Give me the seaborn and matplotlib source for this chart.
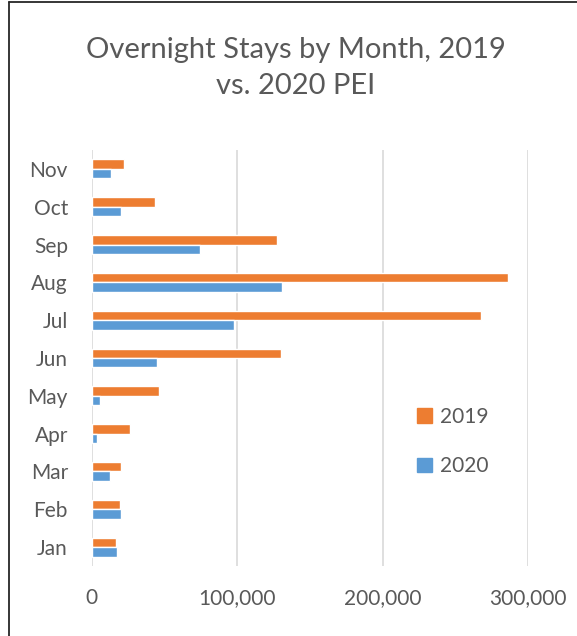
import pandas as pd
import numpy as np
import matplotlib
matplotlib.use("Agg")
import matplotlib.pyplot as plt
from matplotlib.lines import Line2D
from matplotlib.ticker import FuncFormatter
import seaborn as sns

sns.set_theme(style="white")
plt.rcParams['font.family'] = ['Lato', 'DejaVu Sans']

# Data (overnight stays per month)
months = ['Jan', 'Feb', 'Mar', 'Apr', 'May', 'Jun', 'Jul', 'Aug', 'Sep', 'Oct', 'Nov']
stays_2019 = [17000, 19800, 20500, 26200, 46600, 130000, 267700, 286300, 127600, 43800, 22500]
stays_2020 = [17700, 20000, 12900, 4000, 5600, 45200, 97700, 131000, 74300, 20300, 13600]
years = ['2019', '2020']
colors = ['#ED7D31', '#5B9BD5']
xticks = [0, 100000, 200000, 300000]

df = pd.DataFrame({
    'Month': months * 2,
    'Year': [years[0]] * len(months) + [years[1]] * len(months),
    'Stays': stays_2019 + stays_2020,
})

grey = '#595959'

fig = plt.figure(figsize=(5.77, 6.36), dpi=100)
ax = fig.add_axes([91.5 / 577, 1 - 566 / 636, (528.3 - 91.5) / 577, (566 - 150) / 636])

sns.barplot(data=df, y='Month', x='Stays', hue='Year', order=months[::-1],
            hue_order=years, palette=colors, orient='h', width=0.5,
            saturation=1, ax=ax, legend=False)

ax.set_xlim(0, 300000)
ax.set_ylim(len(months) - 0.5, -0.5)
ax.set_xticks(xticks)
ax.xaxis.set_major_formatter(FuncFormatter(lambda v, p: f"{int(v):,}"))
ax.set_xlabel('')
ax.set_ylabel('')
ax.grid(axis='x', color='#d9d9d9', linewidth=1.2)
ax.set_axisbelow(True)
for s in ax.spines.values():
    s.set_visible(False)
ax.tick_params(axis='both', length=0, labelsize=15, labelcolor=grey)
ax.tick_params(axis='y', pad=17)
ax.tick_params(axis='x', pad=16)

# legend sits inside the plot, Excel style
handles = [plt.Rectangle((0, 0), 1, 1, color=c) for c in colors]
ax.legend(handles, years, loc='upper left', frameon=False,
          bbox_to_anchor=(417 / 577, 1 - 407 / 636), bbox_transform=fig.transFigure,
          fontsize=15, labelcolor=grey, handlelength=0.7, handleheight=0.7,
          handletextpad=0.4, labelspacing=1.4, borderpad=0, borderaxespad=0)

fig.text(295.5 / 577, 1 - 68 / 636, "Overnight Stays by Month, 2019\nvs. 2020 PEI",
         ha='center', va='center', fontsize=21, color=grey, linespacing=1.5)

# chart frame (left and top edges visible in the crop)
fig.add_artist(Line2D([8.5 / 577, 8.5 / 577], [0, 1 - 2 / 636], color='#262626', linewidth=1.3))
fig.add_artist(Line2D([8.5 / 577, 1], [1 - 2 / 636, 1 - 2 / 636], color='#262626', linewidth=1.3))

fig.savefig("out.png", dpi=100)
